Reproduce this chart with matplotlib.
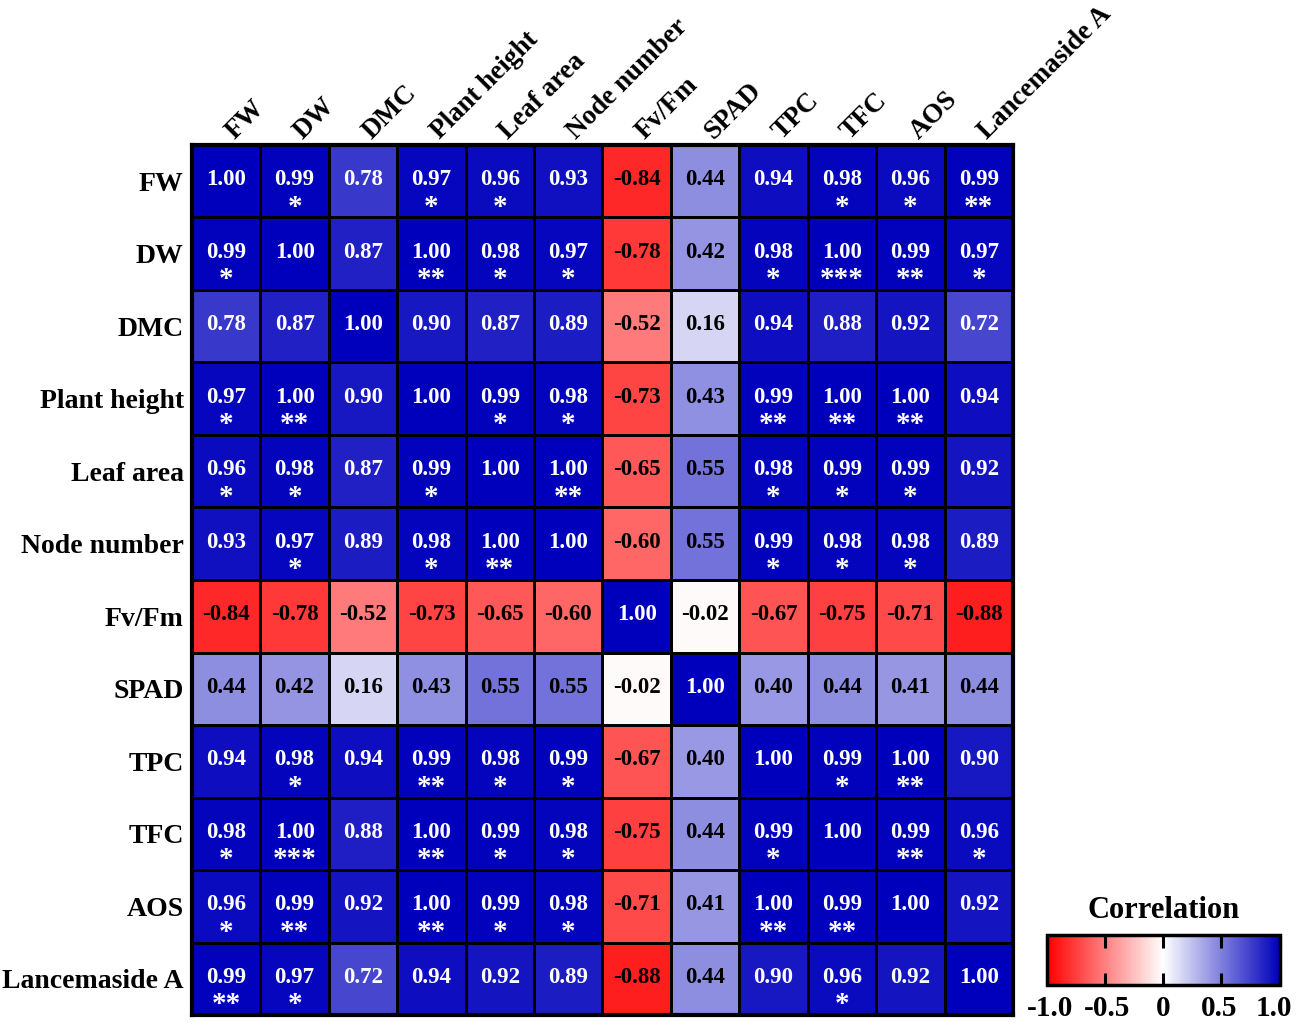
import numpy as np
import matplotlib
matplotlib.use("Agg")
import matplotlib.pyplot as plt
from matplotlib.colors import LinearSegmentedColormap

plt.rcParams['font.family'] = ['Liberation Serif', 'DejaVu Serif']
plt.rcParams['font.weight'] = 'bold'

labels = ["FW", "DW", "DMC", "Plant height", "Leaf area", "Node number",
          "Fv/Fm", "SPAD", "TPC", "TFC", "AOS", "Lancemaside A"]

corr = np.array([
    [1.00, 0.99, 0.78, 0.97, 0.96, 0.93, -0.84, 0.44, 0.94, 0.98, 0.96, 0.99],
    [0.99, 1.00, 0.87, 1.00, 0.98, 0.97, -0.78, 0.42, 0.98, 1.00, 0.99, 0.97],
    [0.78, 0.87, 1.00, 0.90, 0.87, 0.89, -0.52, 0.16, 0.94, 0.88, 0.92, 0.72],
    [0.97, 1.00, 0.90, 1.00, 0.99, 0.98, -0.73, 0.43, 0.99, 1.00, 1.00, 0.94],
    [0.96, 0.98, 0.87, 0.99, 1.00, 1.00, -0.65, 0.55, 0.98, 0.99, 0.99, 0.92],
    [0.93, 0.97, 0.89, 0.98, 1.00, 1.00, -0.60, 0.55, 0.99, 0.98, 0.98, 0.89],
    [-0.84, -0.78, -0.52, -0.73, -0.65, -0.60, 1.00, -0.02, -0.67, -0.75, -0.71, -0.88],
    [0.44, 0.42, 0.16, 0.43, 0.55, 0.55, -0.02, 1.00, 0.40, 0.44, 0.41, 0.44],
    [0.94, 0.98, 0.94, 0.99, 0.98, 0.99, -0.67, 0.40, 1.00, 0.99, 1.00, 0.90],
    [0.98, 1.00, 0.88, 1.00, 0.99, 0.98, -0.75, 0.44, 0.99, 1.00, 0.99, 0.96],
    [0.96, 0.99, 0.92, 1.00, 0.99, 0.98, -0.71, 0.41, 1.00, 0.99, 1.00, 0.92],
    [0.99, 0.97, 0.72, 0.94, 0.92, 0.89, -0.88, 0.44, 0.90, 0.96, 0.92, 1.00],
])

# significance marks, one row per variable
stars = [
    ["", "*", "", "*", "*", "", "", "", "", "*", "*", "**"],
    ["*", "", "", "**", "*", "*", "", "", "*", "***", "**", "*"],
    ["", "", "", "", "", "", "", "", "", "", "", ""],
    ["*", "**", "", "", "*", "*", "", "", "**", "**", "**", ""],
    ["*", "*", "", "*", "", "**", "", "", "*", "*", "*", ""],
    ["", "*", "", "*", "**", "", "", "", "*", "*", "*", ""],
    ["", "", "", "", "", "", "", "", "", "", "", ""],
    ["", "", "", "", "", "", "", "", "", "", "", ""],
    ["", "*", "", "**", "*", "*", "", "", "", "*", "**", ""],
    ["*", "***", "", "**", "*", "*", "", "", "*", "", "**", "*"],
    ["*", "**", "", "**", "*", "*", "", "", "**", "**", "", ""],
    ["**", "*", "", "", "", "", "", "", "", "*", "", ""],
]

cbar_ticks = [-1.0, -0.5, 0, 0.5, 1.0]
cbar_ticklabels = ["-1.0", "-0.5", "0", "0.5", "1.0"]

cmap = LinearSegmentedColormap.from_list("rwb", ["#FF0000", "#FFFFFF", "#0000BC"])

fig = plt.figure(figsize=(12.99, 10.26), dpi=100)
ax = fig.add_axes([0.1478, 0.0107, 0.632, 0.848])

n = len(labels)
mesh = ax.pcolormesh(np.arange(n + 1) - 0.5, np.arange(n + 1) - 0.5, corr,
                     cmap=cmap, vmin=-1, vmax=1, edgecolors="black", linewidth=1.8)
ax.set_xlim(-0.5, n - 0.5)
ax.set_ylim(n - 0.5, -0.5)

for i in range(n):
    for j in range(n):
        v = corr[i, j]
        col = "white" if v > 0.6 else "black"
        ax.text(j, i - 0.02, f"{v:.2f}", ha="center", va="center",
                fontsize=16.5, fontweight="bold", color=col)
        if stars[i][j]:
            ax.text(j, i + 0.36, stars[i][j], ha="center", va="center",
                    fontsize=21, fontweight="bold", color="white")

ax.set_yticks(range(n))
ax.set_yticklabels(labels, fontsize=20, fontweight="bold")
ax.set_xticks([])
ax.tick_params(length=0, pad=6)
for j, lab in enumerate(labels):
    ax.annotate(lab, xy=(j, -0.5), xytext=(8, 5), textcoords="offset pixels",
                rotation=45, ha="left", va="baseline", rotation_mode="anchor",
                fontsize=19.5, fontweight="bold", annotation_clip=False)
for s in ax.spines.values():
    s.set_linewidth(3)

cax = fig.add_axes([0.806, 0.040, 0.179, 0.0487])
cb = fig.colorbar(mesh, cax=cax, orientation="horizontal")
cb.set_ticks(cbar_ticks)
cb.set_ticklabels([""] * len(cbar_ticks))
cb.outline.set_linewidth(2.5)
cax.tick_params(axis="x", direction="in", length=9, width=2.2,
                top=True, bottom=True)
label_shift = [3, 2, 0, -2, -6]
for t, lab, dx in zip(cbar_ticks, cbar_ticklabels, label_shift):
    cax.annotate(lab, xy=(t, 0), xycoords=("data", "axes fraction"),
                 xytext=(dx, -10), textcoords="offset pixels",
                 ha="center", va="top", fontsize=21, fontweight="bold",
                 annotation_clip=False)
cax.set_title("Correlation", fontsize=22, fontweight="bold", pad=12)

fig.savefig("out.png", dpi=100)
